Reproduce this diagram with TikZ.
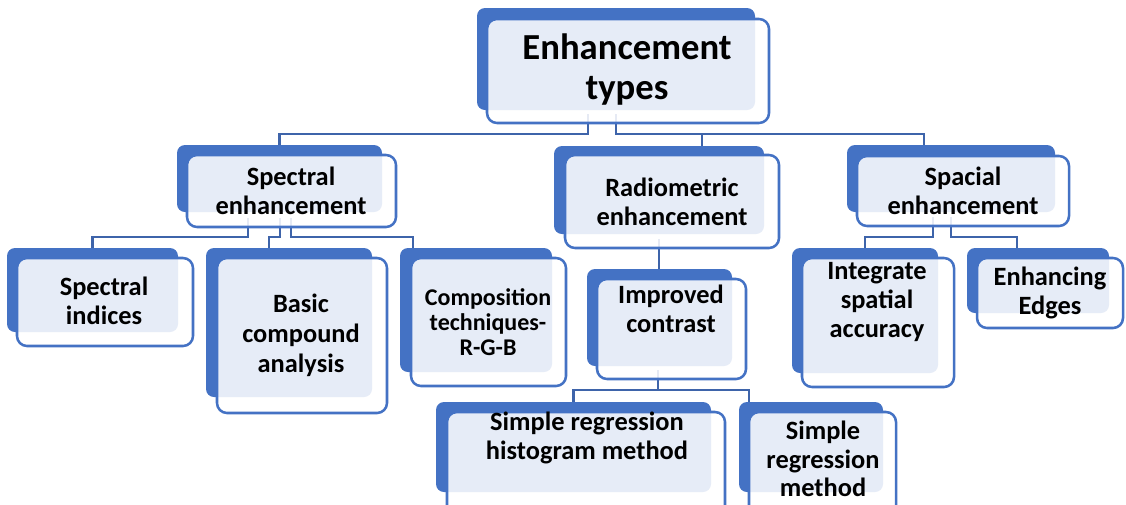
\documentclass[tikz,border=0pt]{standalone}
\usepackage{fontspec}
\setmainfont{Carlito}
\usetikzlibrary{fit,calc}
\pgfdeclarelayer{bg}
\pgfsetlayers{bg,main}
\definecolor{acc}{HTML}{4472C4}
\definecolor{lnk}{HTML}{3E64AA}
\newcommand\smartnode[5]{%
  \node[backbox, fit={(#2) (#3)}] (#1-back) {};
  \node[frontbox, fit={(#4) (#5)}] (#1) {};
}
\begin{document}
\begin{tikzpicture}[x=0.75pt,y=-0.75pt,
  backbox/.style={fill=acc, draw=none, rounded corners=6pt, inner sep=0pt},
  frontbox/.style={draw=acc, line width=1.9pt, fill=white, fill opacity=0.87, rounded corners=7.5pt, inner sep=0pt},
  lbl/.style={font=\bfseries\fontsize{19.8}{21.4}\selectfont, align=center, text=black, inner sep=0pt},
  conn/.style={draw=lnk, line width=1.8pt}]
\useasboundingbox (0,0) rectangle (1126,504);

% boxes
\smartnode{root}{477,8}{755,110}{487,19}{769,123}
\smartnode{spec}{177,145}{382,212}{187,155}{396,227}
\smartnode{radio}{554,146}{764,234}{565,155}{779,248}
\smartnode{spac}{847,145}{1055,212}{857,156}{1069,226}
\smartnode{ind}{7,248}{178,332}{17,258}{193,346}
\smartnode{basic}{206,248}{372,397}{217,258}{387,413}
\smartnode{comp}{400,248}{552,372}{411,258}{566,386}
\smartnode{impr}{587,269}{732,366}{597,279}{746,379}
\smartnode{hist}{436,402}{711,492}{447,412}{725,520}
\smartnode{srm}{739,402}{883,492}{749,412}{896,520}
\smartnode{integ}{792,248}{938,373}{802,258}{954,387}
\smartnode{edges}{967,248}{1109,313}{977,258}{1123,328}

% labels
\node[lbl, font=\bfseries\fontsize{27.5}{30}\selectfont] (root-t) at (627,70) {Enhancement\\types};
\node[lbl] (spec-t) at (291,191) {Spectral\\enhancement};
\node[lbl] (radio-t) at (672,202) {Radiometric\\enhancement};
\node[lbl] (spac-t) at (963,191) {Spacial\\enhancement};
\node[lbl] (ind-t) at (104,301) {Spectral\\indices};
\node[lbl, font=\bfseries\fontsize{19.8}{22.5}\selectfont] (basic-t) at (301,335) {Basic\\compound\\analysis};
\node[lbl, font=\bfseries\fontsize{18}{19}\selectfont] (comp-t) at (488,322) {Composition\\techniques-\\R-G-B};
\node[lbl] (impr-t) at (671,309) {Improved\\contrast};
\node[lbl] (hist-t) at (587,438) {Simple regression\\histogram method};
\node[lbl] (srm-t) at (823,459) {Simple\\regression\\method};
\node[lbl] (integ-t) at (877,302) {Integrate\\spatial\\accuracy};
\node[lbl] (edges-t) at (1050,293) {Enhancing\\Edges};

% connectors (behind the front boxes)
\begin{pgfonlayer}{bg}
\draw[conn] ($(root.south)+(-40,-10)$) -- ++(0,20) -| (spec-back.north);
\draw[conn] ($(root.south)+(-12,-10)$) -- ++(0,20) -| ($(radio-back.north)+(43,0)$);
\draw[conn] ($(root.south)+(-12,-10)$) -- ++(0,20) -| ($(spac-back.north)+(-27,0)$);
\draw[conn] ($(spec.south)+(-43.5,-10)$) -- ++(0,19) -| (ind-back.north);
\draw[conn] ($(spec.south)+(-11.5,-10)$) -- ++(0,19) -| ($(basic-back.north)+(-20,0)$);
\draw[conn] ($(spec.south)+(-0.5,-10)$) -- ++(0,19) -| ($(comp-back.north)+(-63,0)$);
\draw[conn] ($(radio.south)+(-13,-10)$) coordinate (rs) -- (rs |- impr-back.north);
\draw[conn] ($(impr.south)+(-13.5,-10)$) -- ++(0,20) -| (hist-back.north);
\draw[conn] ($(impr.south)+(-13.5,-10)$) -- ++(0,20) -| ($(srm-back.north)+(-62,0)$);
\draw[conn] ($(spac.south)+(-30,-10)$) -- ++(0,20) -| (integ-back.north);
\draw[conn] ($(spac.south)+(-12,-10)$) -- ++(0,20) -| ($(edges-back.north)+(-21,0)$);
\end{pgfonlayer}
\end{tikzpicture}
\end{document}
